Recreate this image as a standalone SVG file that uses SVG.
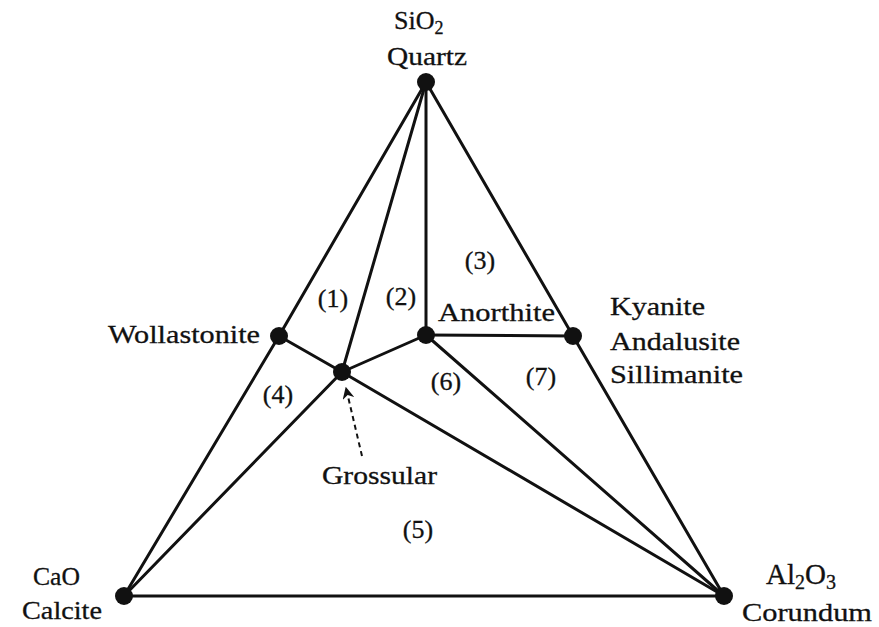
<svg xmlns="http://www.w3.org/2000/svg" width="879" height="627" viewBox="0 0 879 627">
<defs>
<style>
.e{stroke:#111;stroke-width:3;fill:none;stroke-linecap:round}
.d{fill:#111}
text{font-family:"Liberation Serif","Times New Roman",serif;font-size:26px;fill:#111;stroke:#111;stroke-width:0.3}
.m{text-anchor:middle}
.s{font-size:18px}
.big{font-size:29px}
.bs{font-size:20px}
</style>
<marker id="ah" viewBox="0 0 10 10" refX="9" refY="5" markerWidth="6" markerHeight="6" orient="auto" markerUnits="strokeWidth">
<path d="M0,0 L10,5 L0,10 L3,5 z" fill="#111"/>
</marker>
</defs>
<rect width="879" height="627" fill="#fff"/>
<g id="connectors">
<line class="e" x1="426" y1="82" x2="279" y2="336"/>
<line class="e" x1="279" y1="336" x2="124" y2="596"/>
<line class="e" x1="426" y1="82" x2="342" y2="372"/>
<line class="e" x1="426" y1="82" x2="426" y2="335"/>
<line class="e" x1="426" y1="82" x2="573" y2="336"/>
<line class="e" x1="573" y1="336" x2="724" y2="596"/>
<line class="e" x1="279" y1="336" x2="342" y2="372"/>
<line class="e" x1="342" y1="372" x2="426" y2="335"/>
<line class="e" x1="426" y1="335" x2="573" y2="336"/>
<line class="e" x1="342" y1="372" x2="124" y2="596"/>
<line class="e" x1="342" y1="372" x2="724" y2="596"/>
<line class="e" x1="426" y1="335" x2="724" y2="596"/>
<line class="e" x1="124" y1="596" x2="724" y2="596"/>
<line x1="362" y1="456" x2="346" y2="388" stroke="#111" stroke-width="2" stroke-dasharray="5,4" marker-end="url(#ah)"/>
</g>
<g id="quartz">
<circle class="d" cx="426" cy="82" r="9"/>
<text x="394" y="29">SiO<tspan class="s" dy="5">2</tspan></text>
<text class="m" x="427" y="65" textLength="80" lengthAdjust="spacingAndGlyphs">Quartz</text>
</g>
<g id="wollastonite">
<circle class="d" cx="279" cy="336" r="9"/>
<text x="108" y="343" textLength="152" lengthAdjust="spacingAndGlyphs">Wollastonite</text>
</g>
<g id="grossular">
<circle class="d" cx="342" cy="372" r="9"/>
<text x="322" y="484" textLength="115" lengthAdjust="spacingAndGlyphs">Grossular</text>
</g>
<g id="anorthite">
<circle class="d" cx="426" cy="335" r="9"/>
<text x="438" y="321" textLength="117" lengthAdjust="spacingAndGlyphs">Anorthite</text>
</g>
<g id="kyanite">
<circle class="d" cx="573" cy="336" r="9"/>
<text x="610" y="315" textLength="95" lengthAdjust="spacingAndGlyphs">Kyanite</text>
<text x="610" y="350" textLength="130" lengthAdjust="spacingAndGlyphs">Andalusite</text>
<text x="610" y="383" textLength="133" lengthAdjust="spacingAndGlyphs">Sillimanite</text>
</g>
<g id="calcite">
<circle class="d" cx="124" cy="596" r="9"/>
<text x="33" y="585" textLength="47" lengthAdjust="spacingAndGlyphs">CaO</text>
<text x="22" y="619" textLength="80" lengthAdjust="spacingAndGlyphs">Calcite</text>
</g>
<g id="corundum">
<circle class="d" cx="724" cy="596" r="9"/>
<text class="big" x="766" y="584">Al<tspan class="bs" dy="5">2</tspan><tspan dy="-5">O</tspan><tspan class="bs" dy="5">3</tspan></text>
<text x="742" y="621" textLength="130" lengthAdjust="spacingAndGlyphs">Corundum</text>
</g>
<g id="regions">
<text class="m" x="333" y="307">(1)</text>
<text class="m" x="401" y="305">(2)</text>
<text class="m" x="480" y="269">(3)</text>
<text class="m" x="278" y="403">(4)</text>
<text class="m" x="418" y="538">(5)</text>
<text class="m" x="446" y="390">(6)</text>
<text class="m" x="541" y="385">(7)</text>
</g>
</svg>
